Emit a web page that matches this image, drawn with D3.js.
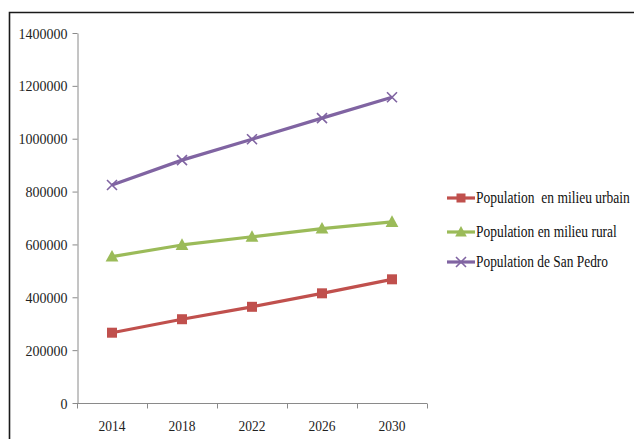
<!DOCTYPE html>
<html>
<head>
<meta charset="utf-8">
<script src="https://cdn.jsdelivr.net/npm/d3@7"></script>
<style>
  html, body { margin: 0; padding: 0; background: #fff; }
  svg { display: block; }
</style>
</head>
<body>
<svg id="chart" width="634" height="439"></svg>
<script>
const years = ["2014", "2018", "2022", "2026", "2030"];
const urbain = [266000, 317000, 364000, 415000, 468000];
const rural = [554000, 598000, 629000, 660000, 685000];
const sanPedro = [825000, 919000, 998000, 1078000, 1157000];
const yTicks = [0, 200000, 400000, 600000, 800000, 1000000, 1200000, 1400000];
const seriesNames = ["Population  en milieu urbain", "Population en milieu rural", "Population de San Pedro"];
const seriesColors = ["#C0504D", "#9BBB59", "#8064A2"];
const seriesMarkers = ["square", "triangle", "cross"];
const legendWidths = [154, 141, 132];

const FONT = "'Liberation Serif', serif";
const svg = d3.select("#chart");

// squeeze a text horizontally to a target width (the original font is condensed)
function squeeze(sel, width, anchorX, baseY, anchor) {
  sel.each(function () {
    const t = d3.select(this);
    const w = this.getComputedTextLength();
    const sx = Math.min(1, width(t) / w);
    t.attr("x", 0).attr("y", 0).attr("text-anchor", anchor)
      .attr("transform", `translate(${anchorX(t)},${baseY(t)}) scale(${sx},1)`);
  });
}

// outer frame (left and top edges visible)
svg.append("path")
  .attr("d", "M9.5,439 L9.5,12.5 L634,12.5")
  .attr("fill", "none").attr("stroke", "#1a1a1a").attr("stroke-width", 1.6);

const x = d3.scaleBand().domain(years).range([77, 427]).padding(0);
const y = d3.scaleLinear().domain([0, 1400000]).range([403, 33]);

// Y axis
const yAxis = svg.append("g").attr("transform", "translate(77.5,0)")
  .call(d3.axisLeft(y).tickValues(yTicks).tickSize(5).tickSizeOuter(0).tickFormat(d3.format("d")));
yAxis.select(".domain").attr("stroke", "#8a8a8a");
yAxis.selectAll(".tick line").attr("stroke", "#8a8a8a");
yAxis.selectAll(".tick text")
  .attr("font-size", 15).attr("dy", null)
  .style("font-family", FONT).attr("fill", "#222")
  .call(squeeze, t => t.text().length * 7, () => -10, () => 5, "end");

// X axis (ticks between categories, like the original)
const xg = svg.append("g");
const y0 = Math.round(y(0)) + 0.5;
xg.append("line").attr("x1", x.range()[0]).attr("x2", x.range()[1])
  .attr("y1", y0).attr("y2", y0).attr("stroke", "#8a8a8a");
const bounds = years.map(d => x(d)).concat([x(years[years.length - 1]) + x.bandwidth()]);
xg.selectAll("line.tk").data(bounds).enter().append("line").attr("class", "tk")
  .attr("x1", d => Math.round(d) + 0.5).attr("x2", d => Math.round(d) + 0.5)
  .attr("y1", y0).attr("y2", y0 + 5).attr("stroke", "#8a8a8a");
xg.selectAll("text").data(years).enter().append("text")
  .attr("font-size", 15).style("font-family", FONT).attr("fill", "#222")
  .text(d => d)
  .call(squeeze, () => 27, t => x(t.datum()) + x.bandwidth() / 2, () => 431, "middle");

function drawMarker(g, type, color, cx, cy, s) {
  if (type === "square") {
    g.append("rect").attr("x", cx - s / 2).attr("y", cy - s / 2).attr("width", s).attr("height", s)
      .attr("fill", color);
  } else if (type === "triangle") {
    const h = s;
    g.append("path").attr("d", `M${cx},${cy - h * 0.6} L${cx + h * 0.58},${cy + h * 0.45} L${cx - h * 0.58},${cy + h * 0.45} Z`)
      .attr("fill", color);
  } else {
    const r = s / 2;
    g.append("path").attr("d", `M${cx - r},${cy - r} L${cx + r},${cy + r} M${cx - r},${cy + r} L${cx + r},${cy - r}`)
      .attr("stroke", color).attr("stroke-width", 1.6).attr("fill", "none");
  }
}

const allSeries = [urbain, rural, sanPedro];
const line = d3.line().x((d, i) => x(years[i]) + x.bandwidth() / 2).y(d => y(d));
allSeries.forEach((vals, si) => {
  const g = svg.append("g");
  g.append("path").datum(vals).attr("d", line)
    .attr("fill", "none").attr("stroke", seriesColors[si]).attr("stroke-width", 3.2)
    .attr("stroke-linejoin", "round");
  vals.forEach((v, i) => {
    drawMarker(g, seriesMarkers[si], seriesColors[si], x(years[i]) + x.bandwidth() / 2, y(v),
      seriesMarkers[si] === "square" ? 10 : (seriesMarkers[si] === "triangle" ? 11 : 10));
  });
});

// Legend
const legendY = [198, 232, 262];
seriesNames.forEach((name, i) => {
  const g = svg.append("g");
  const ly = legendY[i];
  g.append("line").attr("x1", 447).attr("x2", 475).attr("y1", ly).attr("y2", ly)
    .attr("stroke", seriesColors[i]).attr("stroke-width", 3.2);
  drawMarker(g, seriesMarkers[i], seriesColors[i], 461, ly, seriesMarkers[i] === "square" ? 9 : 10);
  g.append("text").attr("font-size", 16)
    .style("font-family", FONT).attr("fill", "#111")
    .style("white-space", "pre")
    .text(name)
    .call(squeeze, () => legendWidths[i], () => 476, () => ly + 5, "start");
});
</script>
</body>
</html>
